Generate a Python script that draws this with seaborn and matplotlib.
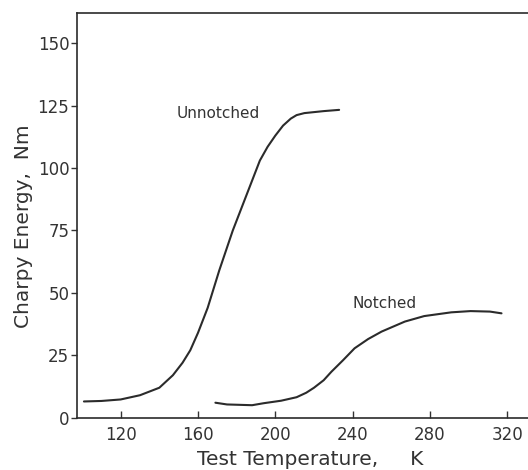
import pandas as pd
import matplotlib.pyplot as plt
import seaborn as sns

# valeurs
unnotched_temp = [101, 110, 120, 130, 140, 147, 152, 156, 160, 165, 171, 178, 185, 192, 196, 200, 204, 208, 211, 215, 225, 233]
unnotched_energy = [6.5, 6.7, 7.3, 9, 12, 17, 22, 27, 34, 44, 59, 75, 89, 103, 108.5, 113, 117, 119.8, 121.2, 122, 122.8, 123.3]

notched_temp = [169, 175, 188, 194, 203, 211, 216, 220, 225, 229, 235, 241, 248, 255, 267, 277, 291, 301, 311, 317]
notched_energy = [6, 5.3, 5, 5.8, 6.8, 8.2, 10, 12, 15, 18.4, 23, 27.8, 31.5, 34.5, 38.5, 40.7, 42.2, 42.7, 42.5, 41.8]

x_ticks = [120, 160, 200, 240, 280, 320]
y_ticks = [0, 25, 50, 75, 100, 125, 150]

df = pd.concat([
    pd.DataFrame({"temp": unnotched_temp, "energy": unnotched_energy, "serie": "Unnotched"}),
    pd.DataFrame({"temp": notched_temp, "energy": notched_energy, "serie": "Notched"}),
])

sns.set_style("white")
plt.rcParams['font.family'] = ['DejaVu Sans']

fig = plt.figure(figsize=(5.28, 4.70), dpi=100)
ax = fig.add_axes([0.1458, 0.1113, 0.8542, 0.8621])

sns.lineplot(data=df, x="temp", y="energy", units="serie", estimator=None,
             color="#2b2b2b", linewidth=1.5, sort=False, ax=ax, legend=False)

ax.set_xlim(97.4, 330.7)
ax.set_ylim(0, 162.3)
ax.set_xticks(x_ticks)
ax.set_yticks(y_ticks)

ax.tick_params(axis="x", bottom=True, direction="in", length=5, width=1, pad=6, labelsize=12, colors="#333333")
ax.tick_params(axis="y", left=True, direction="out", length=4, width=1, pad=1.5, labelsize=12, colors="#333333")

for s in ["left", "bottom", "top"]:
    ax.spines[s].set_color("#2b2b2b")
    ax.spines[s].set_linewidth(1.2)
ax.spines["right"].set_visible(False)

ax.text(149, 121.7, "Unnotched", fontsize=11, color="#333333", va="center", ha="left")
ax.text(239.8, 45.8, "Notched", fontsize=11, color="#333333", va="center", ha="left")

ax.set_xlabel("Test Temperature,     K", fontsize=14.5, color="#333333")
ax.set_ylabel("Charpy Energy,  Nm", fontsize=14.5, color="#333333")
ax.xaxis.set_label_coords(0.517, -0.08)
ax.yaxis.set_label_coords(-0.097, 0.473)

fig.savefig("out.png", dpi=100)
plt.close()
